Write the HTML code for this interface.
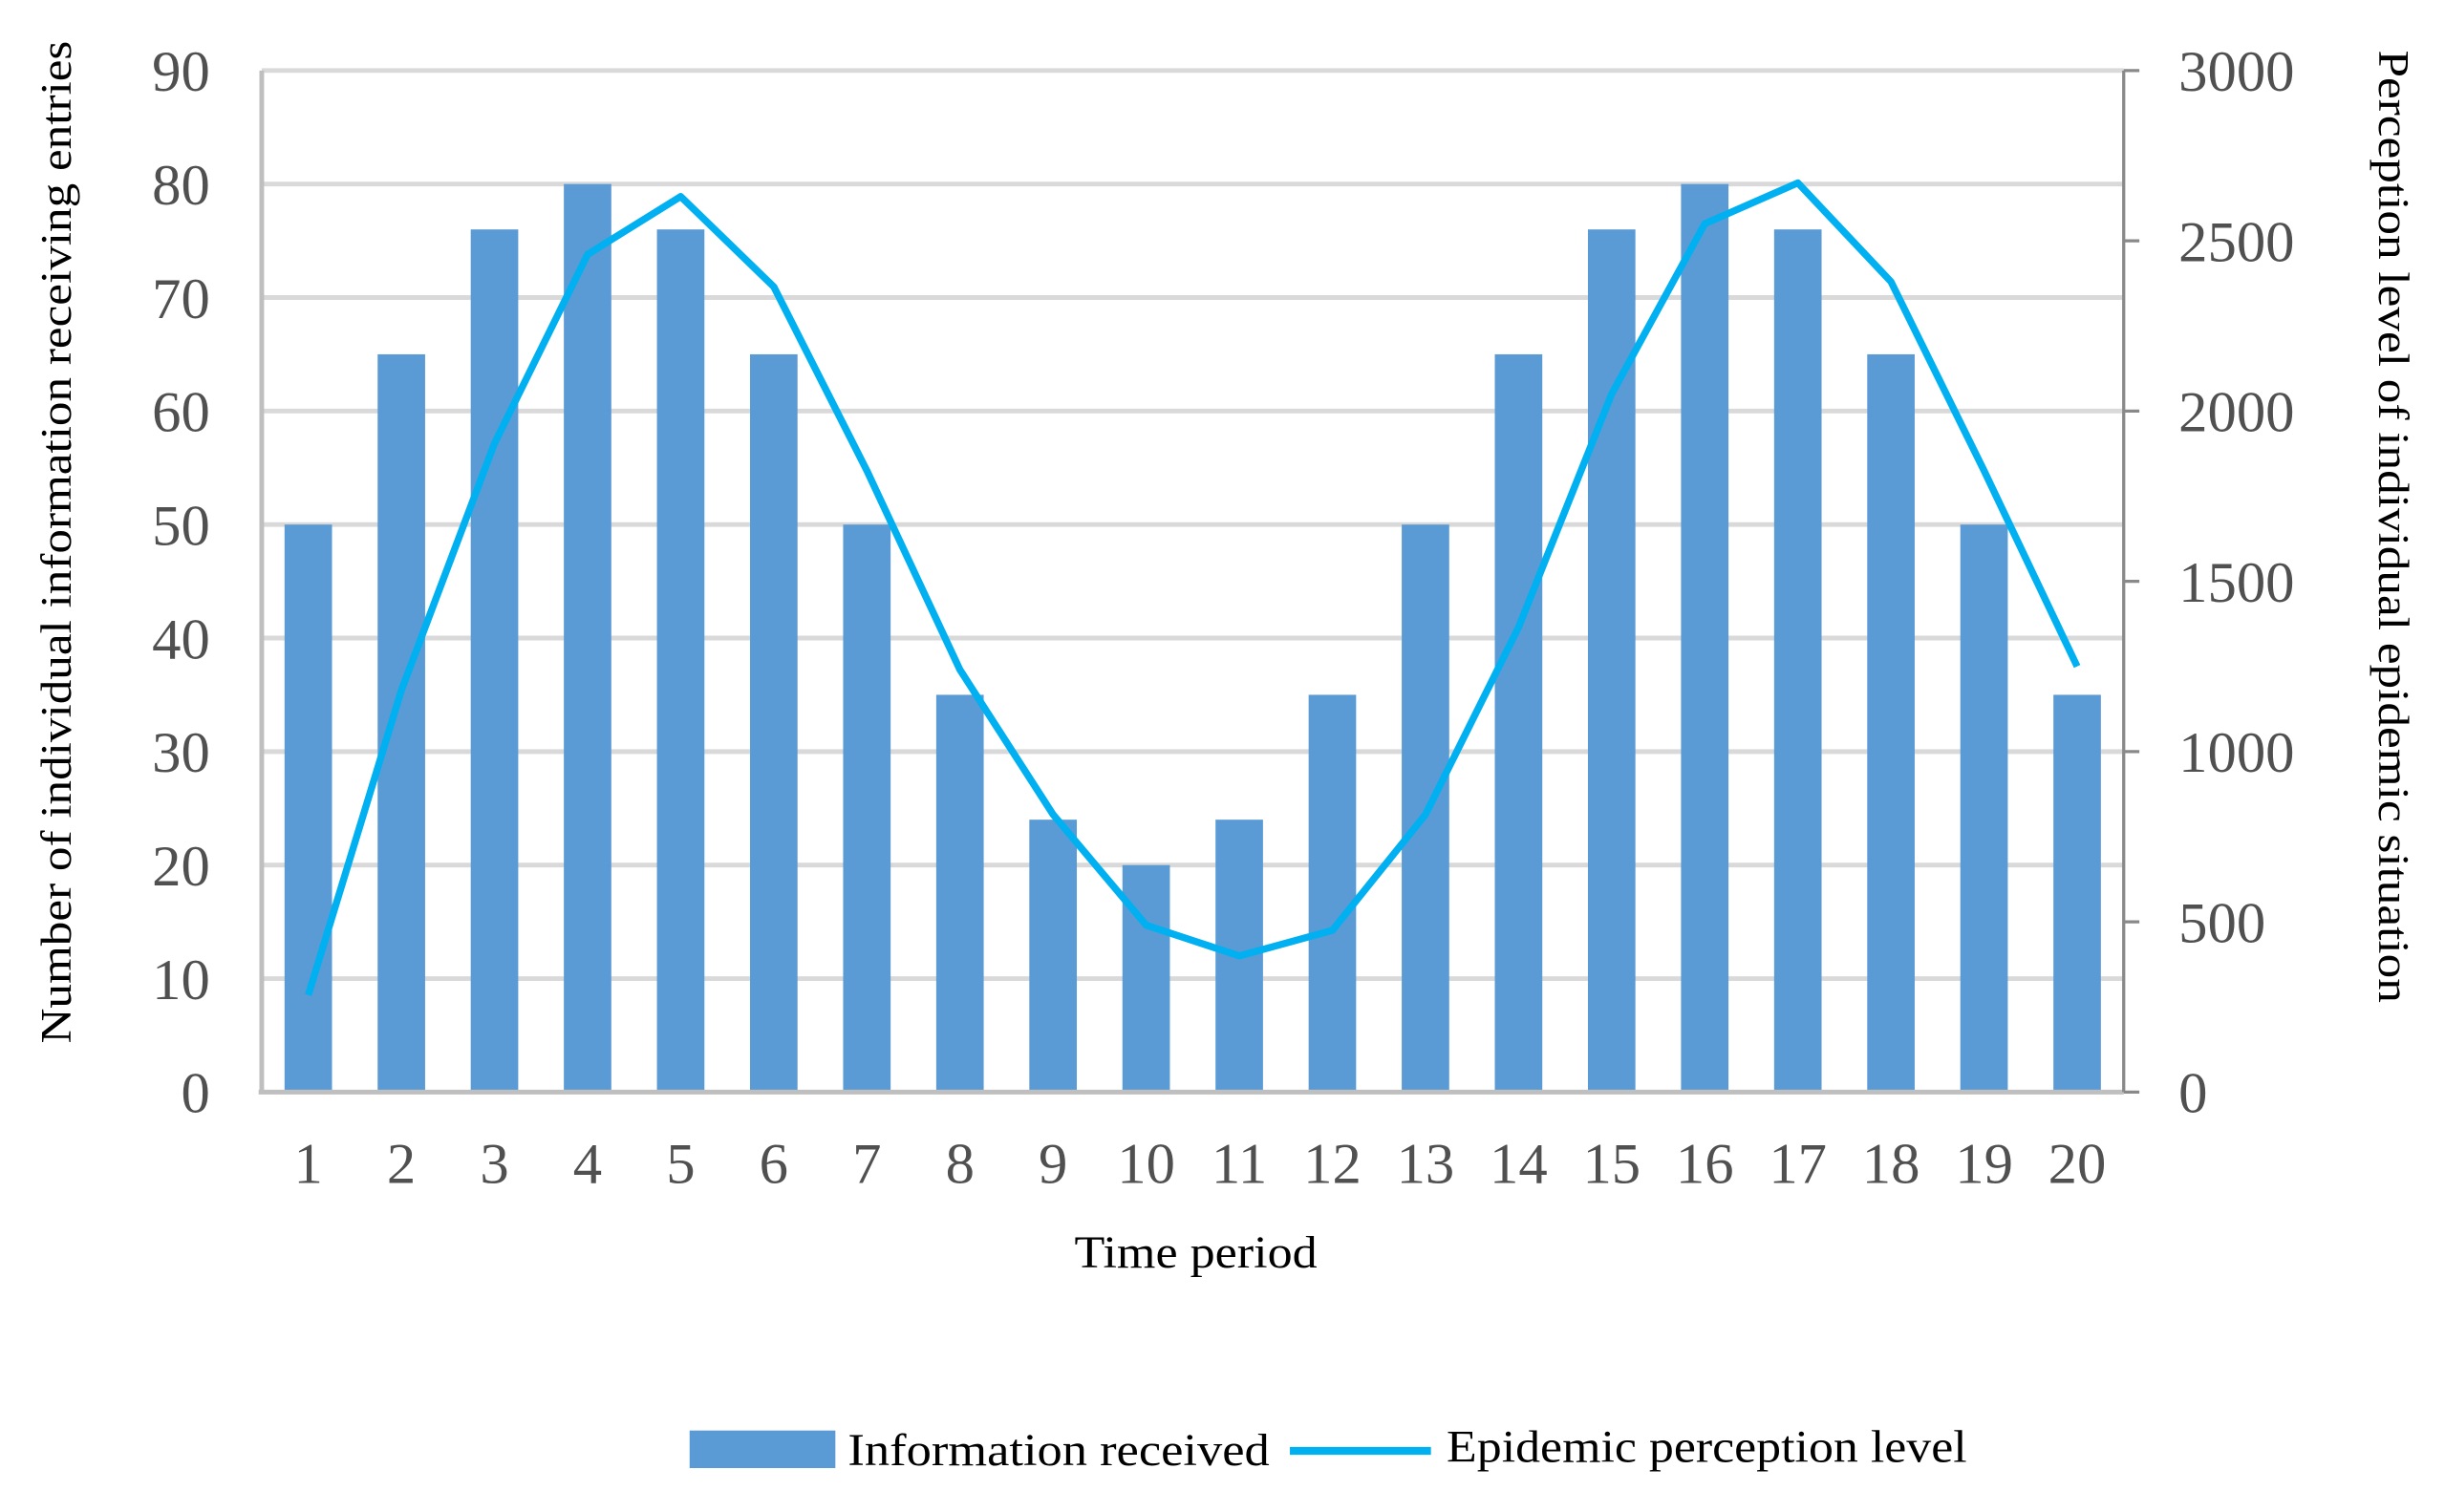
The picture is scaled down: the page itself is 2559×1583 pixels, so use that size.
<!DOCTYPE html>
<html><head><meta charset="utf-8"><style>
html,body{margin:0;padding:0;background:#fff;}
svg{display:block;}
text{font-family:"Liberation Serif",serif;}
</style></head><body>
<svg id="chart" width="2559" height="1583" viewBox="0 0 1560 965" xmlns="http://www.w3.org/2000/svg">
<g id="grid"></g>
<g id="bars"></g>
<g id="axes"></g>
<g id="line"></g>
<g id="labels"></g>
<text x="763" y="809" font-size="29" text-anchor="middle" fill="#000" textLength="155" lengthAdjust="spacingAndGlyphs">Time period</text>
<text transform="translate(45,346) rotate(-90)" font-size="28" text-anchor="middle" fill="#000" textLength="640" lengthAdjust="spacingAndGlyphs">Number of individual information receiving entries</text>
<text transform="translate(1518,336) rotate(90)" font-size="28" text-anchor="middle" fill="#000" textLength="608" lengthAdjust="spacingAndGlyphs">Perception level of individual epidemic situation</text>
<g>
<rect x="440" y="913" width="93" height="24" fill="#5B9BD5"/>
<text x="541" y="935" font-size="29" fill="#000" textLength="269" lengthAdjust="spacingAndGlyphs">Information received</text>
<line x1="823" y1="926" x2="913" y2="926" stroke="#00B0F0" stroke-width="5"/>
<text x="923" y="933" font-size="29" fill="#000" textLength="332" lengthAdjust="spacingAndGlyphs">Epidemic perception level</text>
</g>
</svg>
<script>
const categories = ["1","2","3","4","5","6","7","8","9","10","11","12","13","14","15","16","17","18","19","20"];
const infoReceived = [50,65,76,80,76,65,50,35,24,20,24,35,50,65,76,80,76,65,50,35];
const perception = [285,1180,1905,2460,2630,2365,1825,1240,815,490,400,475,815,1365,2050,2550,2670,2380,1825,1250];
const leftTicks = [0,10,20,30,40,50,60,70,80,90];
const rightTicks = [0,500,1000,1500,2000,2500,3000];

const NS="http://www.w3.org/2000/svg";
const L=167,R=1355,T=45,B=697;
const yL=v=>B-(v/90)*(B-T);
const yR=v=>B-(v/3000)*(B-T);
const band=(R-L)/categories.length;
const xC=i=>L+band*(i+0.5);
function mk(tag,attrs,parent){const e=document.createElementNS(NS,tag);for(const k in attrs)e.setAttribute(k,attrs[k]);parent.appendChild(e);return e;}
const grid=document.getElementById('grid'),bars=document.getElementById('bars'),axes=document.getElementById('axes'),lineG=document.getElementById('line'),labels=document.getElementById('labels');

leftTicks.forEach(t=>{
  if(t>0){const g=mk('line',{x1:L,x2:R,y1:yL(t),y2:yL(t),stroke:'#D9D9D9','stroke-width':3},grid);
  
  }
  const tx=mk('text',{x:134,y:yL(t)+13,'font-size':37,'text-anchor':'end',fill:'#505050'},labels);
  tx.textContent=t;
  
  
});
rightTicks.forEach(t=>{
  const tk=mk('line',{x1:R,x2:R+10,y1:yR(t),y2:yR(t),stroke:'#898989','stroke-width':2},axes);
  
  
  const tx=mk('text',{x:1390,y:yR(t)+13,'font-size':37,fill:'#505050'},labels);
  tx.textContent=t;
  
  
});
categories.forEach((c,i)=>{
  const bw=band*0.51;
  const r=mk('rect',{x:xC(i)-bw/2,y:yL(infoReceived[i]),width:bw,height:B-yL(infoReceived[i]),fill:'#5B9BD5'},bars);
  
  
  const tx=mk('text',{x:xC(i),y:755,'font-size':37,'text-anchor':'middle',fill:'#505050'},labels);
  tx.textContent=c;
  
  
});
const la=mk('line',{x1:L,x2:L,y1:T,y2:B,stroke:'#BFBFBF','stroke-width':3},axes);


const ba=mk('line',{x1:L-2,x2:R,y1:B,y2:B,stroke:'#BFBFBF','stroke-width':3},axes);


const ra=mk('line',{x1:R,x2:R,y1:T,y2:B,stroke:'#898989','stroke-width':2},axes);


const pts=perception.map((v,i)=>xC(i)+','+yR(v)).join(' ');
const pl=mk('polyline',{points:pts,fill:'none',stroke:'#00B0F0','stroke-width':4.5,'stroke-linejoin':'round'},lineG);


</script>
</body></html>
